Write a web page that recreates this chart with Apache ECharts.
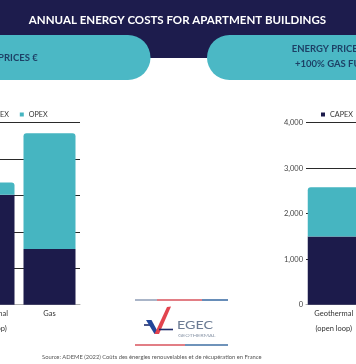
<!DOCTYPE html>
<html>
<head>
<meta charset="utf-8">
<script src="https://cdn.jsdelivr.net/npm/echarts@6/dist/echarts.min.js"></script>
<style>
html,body{margin:0;padding:0;width:356px;height:364px;overflow:hidden;background:#fff;position:relative;}
#c{position:absolute;left:-120px;top:0;width:600px;height:364px;}
</style>
</head>
<body>
<div id="c"></div>
<script>
// ---- data ----
const categoriesLeft = ['Geothermal\n(open loop)', 'Gas'];
const categoriesRight = ['Geothermal\n(open loop)', 'Gas'];
const capexCurrent = [1510, 765];
const opexCurrent = [170, 1590];
const capexHigh = [1500, null];
const opexHigh = [1080, null];
const seriesNames = ['CAPEX', 'OPEX'];
const titleText = 'ANNUAL ENERGY COSTS FOR APARTMENT BUILDINGS';
const leftPillText = 'CURRENT ENERGY PRICES €';
const rightPillLines = ['ENERGY PRICES €', '+100% GAS FUEL'];
const sourceText = 'Source: ADEME (2022) Coûts des énergies renouvelables et de récupération en France';

const NAVY = '#1c1b4b';
const TEAL = '#46b5c1';
const PILL = '#4bb8c5';
const PILLTXT = '#1d4066';
const FONT = 'Lato';
const OX = 120; // container offset

const chart = echarts.init(document.getElementById('c'), null, {renderer: 'canvas'});

function fmt(v){ return String(v).replace(/\B(?=(\d{3})+(?!\d))/g, ','); }

const xAxisCommon = {
  type: 'category',
  axisTick: {show: false},
  axisLine: {show: true, lineStyle: {color: '#b0b0b0', width: 1}},
  axisLabel: {fontSize: 7.5, color: '#333', fontFamily: FONT, lineHeight: 14.4, margin: 2, interval: 0},
  splitLine: {show: false}
};
const yAxisCommon = {
  type: 'value',
  axisLine: {show: false},
  axisTick: {show: false},
  splitLine: {show: true, lineStyle: {color: '#2a2a2a', width: 1}},
  axisLabel: {fontSize: 7.5, color: '#444', fontFamily: FONT, margin: 3, formatter: fmt}
};

const option = {
  animation: false,
  backgroundColor: '#fff',
  textStyle: {fontFamily: FONT},
  grid: [
    {left: 78, top: 122.7, width: 122, height: 182},
    {left: 306 + OX, top: 122.7, width: 111, height: 182}
  ],
  legend: [
    {left: 92, top: 106, itemWidth: 4, itemHeight: 4, itemGap: 11, icon: 'rect',
     data: seriesNames, textStyle: {fontSize: 7.2, color: '#333', fontFamily: FONT}},
    {left: 436, top: 106, itemWidth: 4, itemHeight: 4, itemGap: 11, icon: 'rect',
     data: seriesNames, textStyle: {fontSize: 7.2, color: '#333', fontFamily: FONT}}
  ],
  xAxis: [
    Object.assign({}, xAxisCommon, {gridIndex: 0, data: categoriesLeft}),
    Object.assign({}, xAxisCommon, {gridIndex: 1, data: categoriesRight})
  ],
  yAxis: [
    Object.assign({}, yAxisCommon, {gridIndex: 0, min: 0, max: 2500, interval: 500}),
    Object.assign({}, yAxisCommon, {gridIndex: 1, min: 0, max: 4000, interval: 1000})
  ],
  series: [
    {name: 'CAPEX', type: 'bar', stack: 'L', xAxisIndex: 0, yAxisIndex: 0, barWidth: 52,
     data: capexCurrent, itemStyle: {color: NAVY}},
    {name: 'OPEX', type: 'bar', stack: 'L', xAxisIndex: 0, yAxisIndex: 0, barWidth: 52,
     data: opexCurrent, itemStyle: {color: TEAL, borderRadius: [3, 3, 0, 0]}},
    {name: 'CAPEX', type: 'bar', stack: 'R', xAxisIndex: 1, yAxisIndex: 1, barWidth: 52,
     data: capexHigh, itemStyle: {color: NAVY}},
    {name: 'OPEX', type: 'bar', stack: 'R', xAxisIndex: 1, yAxisIndex: 1, barWidth: 52,
     data: opexHigh, itemStyle: {color: TEAL, borderRadius: [3, 3, 0, 0]}}
  ],
  graphic: [
    {type: 'rect', z: -1, shape: {x: 0, y: 0, width: 600, height: 58}, style: {fill: '#1d1c4d'}},
    {type: 'rect', z: 0, shape: {x: 0, y: 35, width: 150.5 + OX, height: 45, r: [0, 22.5, 22.5, 0]}, style: {fill: PILL}},
    {type: 'rect', z: 0, shape: {x: 207 + OX, y: 35, width: 600 - 207 - OX, height: 45, r: [22.5, 0, 0, 22.5]}, style: {fill: PILL}},
    {type: 'text', z: 1, x: 177.5 + OX, y: 20.7, style: {text: titleText, fill: '#fff', font: 'bold 11.5px Lato', align: 'center', verticalAlign: 'middle'}},
    {type: 'text', z: 1, x: 37.7 + OX, y: 58.3, style: {text: leftPillText, fill: PILLTXT, font: 'bold 9.5px Lato', align: 'right', verticalAlign: 'middle'}},
    {type: 'text', z: 1, x: 291.7 + OX, y: 49.3, style: {text: rightPillLines[0], fill: PILLTXT, font: 'bold 9.5px Lato', align: 'left', verticalAlign: 'middle'}},
    {type: 'text', z: 1, x: 295 + OX, y: 64.3, style: {text: rightPillLines[1], fill: PILLTXT, font: 'bold 9.5px Lato', align: 'left', verticalAlign: 'middle'}},
    // logo lines
    {type: 'line', shape: {x1: 135 + OX, y1: 300, x2: 157 + OX, y2: 300}, style: {stroke: '#8e9cb6', lineWidth: 1.5}},
    {type: 'line', shape: {x1: 157 + OX, y1: 300, x2: 202 + OX, y2: 300}, style: {stroke: '#d9535d', lineWidth: 1.5}},
    {type: 'line', shape: {x1: 202 + OX, y1: 300, x2: 228 + OX, y2: 300}, style: {stroke: '#3467a0', lineWidth: 1.5}},
    {type: 'line', shape: {x1: 135 + OX, y1: 345, x2: 185 + OX, y2: 345}, style: {stroke: '#d9535d', lineWidth: 1.5}},
    {type: 'line', shape: {x1: 185 + OX, y1: 345, x2: 228 + OX, y2: 345}, style: {stroke: '#3f6fa3', lineWidth: 1.5}},
    // logo check mark
    {type: 'line', shape: {x1: 144 + OX, y1: 325, x2: 152 + OX, y2: 325}, style: {stroke: '#1f2d6b', lineWidth: 1.6}},
    {type: 'polygon', shape: {points: [[146 + OX, 320], [151.5 + OX, 320], [158 + OX, 332], [154.5 + OX, 334]]}, style: {fill: '#22469a'}},
    {type: 'polygon', shape: {points: [[154.5 + OX, 334], [167 + OX, 307], [171 + OX, 306.5], [159 + OX, 334]]}, style: {fill: '#e2444e'}},
    {type: 'line', shape: {x1: 159 + OX, y1: 329.5, x2: 173 + OX, y2: 329.5}, style: {stroke: '#1f2d6b', lineWidth: 1.6}},
    {type: 'text', x: 177 + OX, y: 325.5, scaleX: 1.3, style: {text: 'EGEC', fill: '#6b7b93', font: '11px Lato', align: 'left', verticalAlign: 'middle'}},
    {type: 'text', x: 178 + OX, y: 335.5, scaleX: 1.4, style: {text: 'GEOTHERMAL', fill: '#8a96a8', font: '4px Lato', align: 'left', verticalAlign: 'middle'}},
    {type: 'text', x: 42 + OX, y: 357.3, style: {text: sourceText, fill: '#555', font: '5.8px Lato', align: 'left', verticalAlign: 'middle'}}
  ]
};
chart.setOption(option);
</script>
</body>
</html>
